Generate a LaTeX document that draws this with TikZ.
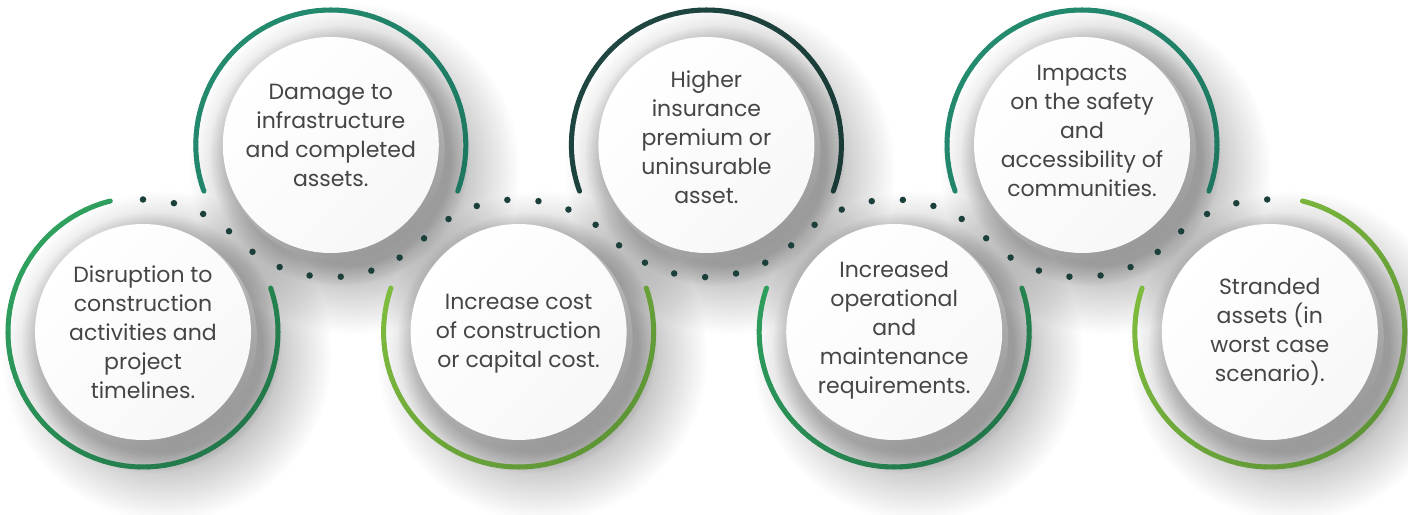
\documentclass[tikz,border=0pt]{standalone}
\usepackage{fontspec}
\setmainfont{Poppins}
\usetikzlibrary{calc}
\definecolor{txtc}{HTML}{454545}
\definecolor{dotc}{HTML}{1B3F3A}
\definecolor{grnL}{HTML}{2FA05E}
\definecolor{grnD}{HTML}{22784A}
\definecolor{limL}{HTML}{80BE3E}
\definecolor{limD}{HTML}{5E9636}
\definecolor{tealL}{HTML}{248B6F}
\definecolor{tealD}{HTML}{1C7560}
\definecolor{darkL}{HTML}{1F4641}
\definecolor{darkD}{HTML}{183834}

\tikzset{
  arcseg/.style={line width=5pt, line cap=round},
  dotline/.style={dotc, line width=6.5pt, line cap=round, dash pattern=on 0pt off 31.22pt},
  shadowlayer/.style={fill=black, fill opacity=0.0075},
  nearshadow/.style={fill=black, fill opacity=0.016},
  disc/.style={circle, minimum size=216pt, inner sep=0pt, top color=white, bottom color=black!3, shading angle=45},
  rimdisc/.style={top color=black!18, bottom color=black!40, shading angle=30},
  label/.style={align=center, text=txtc, inner sep=0pt, font=\fontsize{22}{29}\selectfont},
}

\newcommand\gradarc[5]{%
  \pgfmathsetmacro\gStep{((#3)-(#2))/72}%
  \foreach \k in {0,...,71}{%
    \pgfmathsetmacro\gS{(#2)+\k*\gStep}%
    \pgfmathsetmacro\gE{\gS+\gStep}%
    \pgfmathsetmacro\gM{\gS+0.5*\gStep}%
    \pgfmathtruncatemacro\gT{50+50*(cos(\gM)-sin(\gM))/sqrt(2)}%
    \colorlet{segcol}{#5!\gT!#4}%
    \draw[arcseg, segcol] ($(#1)+(\gS:135pt)$) arc[start angle=\gS, end angle=\gE, radius=135pt];
  }}

\begin{document}
\begin{tikzpicture}[x=1pt,y=1pt]
\useasboundingbox (0,0) rectangle (1408,514);
\fill[white] (0,0) rectangle (1408,514);

\coordinate (c1) at (143,182);
\coordinate (c2) at (330.8,369);
\coordinate (c3) at (518.6,182);
\coordinate (c4) at (706.4,369);
\coordinate (c5) at (894.2,182);
\coordinate (c6) at (1082,369);
\coordinate (c7) at (1269.8,182);

% soft shadows built from stacked translucent discs
\foreach \i in {1,...,7}{%
  \foreach \r in {0,...,34}{%
    \pgfmathsetmacro\rr{165-2*\r}%
    \fill[shadowlayer] ($(c\i)+(24,-24)$) circle (\rr pt);
  }
  \foreach \r in {0,...,9}{%
    \pgfmathsetmacro\rr{130-2*\r}%
    \fill[nearshadow] ($(c\i)+(9,-11)$) circle (\rr pt);
  }}

% coloured arcs
\gradarc{c1}{104}{379}{grnL}{grnD}
\gradarc{c2}{-20}{200}{tealL}{tealD}
\gradarc{c3}{161}{379}{limL}{limD}
\gradarc{c4}{-20}{200}{darkL}{darkD}
\gradarc{c5}{161}{379}{grnL}{grnD}
\gradarc{c6}{-20}{200}{tealL}{tealD}
\gradarc{c7}{161}{436}{limL}{limD}

% dotted wave
\draw[dotline] ($(c1)+(90:132.5pt)$)
  arc[start angle=90, end angle=45, radius=132.5pt]
  arc[start angle=225, end angle=315, radius=132.5pt]
  arc[start angle=135, end angle=45, radius=132.5pt]
  arc[start angle=225, end angle=315, radius=132.5pt]
  arc[start angle=135, end angle=45, radius=132.5pt]
  arc[start angle=225, end angle=315, radius=132.5pt]
  arc[start angle=135, end angle=90, radius=132.5pt];

% discs
\foreach \i in {1,...,7}{%
  \shade[rimdisc] ($(c\i)+(4,-5)$) circle (110pt);
  \node[disc] (d\i) at (c\i) {};
}

% texts
\node[label] (t1) at ($(c1)+(0,0)$) {Disruption to\\construction\\activities and\\project\\timelines.};
\node[label] (t2) at ($(c2)+(0,10)$) {Damage to\\infrastructure\\and completed\\assets.};
\node[label] (t3) at ($(c3)+(0,-2)$) {Increase cost\\of construction\\or capital cost.};
\node[label] (t4) at ($(c4)+(0,8)$) {Higher\\insurance\\premium or\\uninsurable\\asset.};
\node[label] (t5) at ($(c5)+(0,2)$) {Increased\\operational\\and\\maintenance\\requirements.};
\node[label] (t6) at ($(c6)+(0,14)$) {Impacts\\on the safety\\and\\accessibility of\\communities.};
\node[label] (t7) at ($(c7)+(0,0)$) {Stranded\\assets (in\\worst case\\scenario).};
\end{tikzpicture}
\end{document}
